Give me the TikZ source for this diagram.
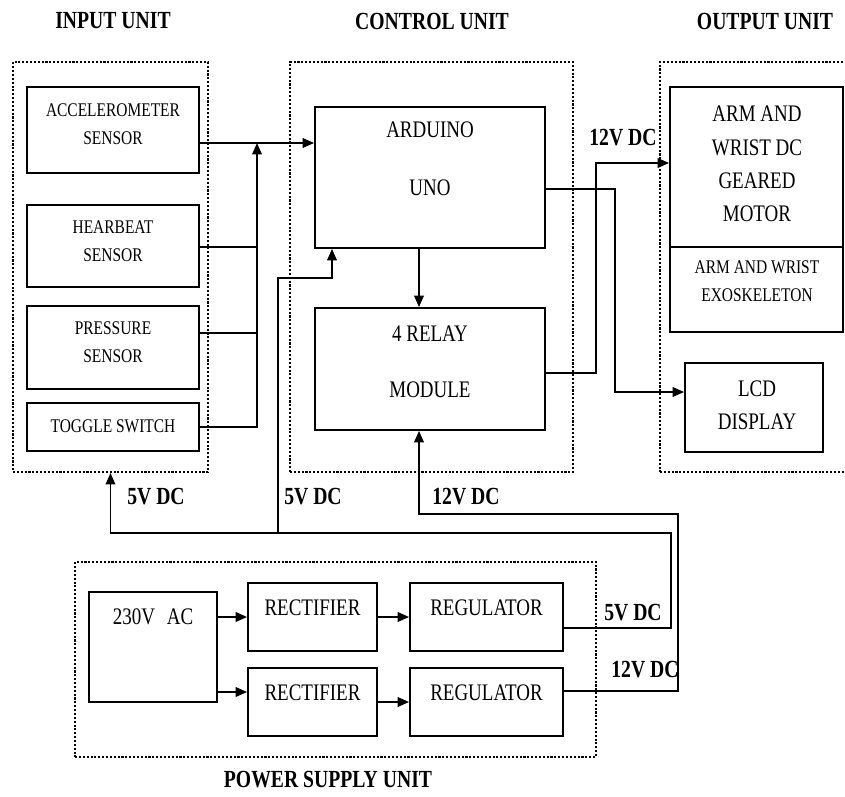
\documentclass[tikz,border=0pt]{standalone}
\usepackage{fontspec}
\setmainfont{Liberation Serif}[FakeStretch=0.8]
\usetikzlibrary{arrows.meta}

\begin{document}
\begin{tikzpicture}
  [x=0.02cm,y=-0.02cm,
   unit/.style={draw=black,densely dotted,line width=1.2pt,inner sep=0pt},
   blk/.style={draw=black,line width=1.1pt,inner sep=0pt},
   big/.style={font=\fontsize{13.5}{19}\selectfont,align=center,inner sep=0pt},
   small/.style={font=\fontsize{11}{16}\selectfont,align=center,inner sep=0pt},
   ttl/.style={font=\fontsize{14}{16}\selectfont\bfseries,inner sep=0pt},
   wire/.style={line width=0.9pt},
   arr/.style={wire,-{Triangle[length=6.5pt,width=5.5pt]}}]
\useasboundingbox (0,0) rectangle (845,796);

% Titulos de las unidades
  \node (tin)  at (113,21)  [ttl] {INPUT UNIT};
  \node (tctl) at (432,21)  [ttl] {CONTROL UNIT};
  \node (tout) at (765,21)  [ttl] {OUTPUT UNIT};
  \node (tpsu) at (328,780) [ttl] {POWER SUPPLY UNIT};

  % Recuadros punteados
  \node (inbox)  at (110.5,267) [unit,minimum width=3.9cm,minimum height=8.2cm] {};
  \node (ctlbox) at (431.5,267) [unit,minimum width=5.66cm,minimum height=8.2cm] {};
  \node (outbox) at (755,267)   [unit,minimum width=3.8cm,minimum height=8.2cm] {};
  \node (psubox) at (335.5,659.5) [unit,minimum width=10.42cm,minimum height=3.9cm] {};

  % Unidad de entrada
  \node (acc) at (113,130)   [blk,minimum width=3.44cm,minimum height=1.72cm] {};
  \node (hb)  at (113,246)   [blk,minimum width=3.44cm,minimum height=1.64cm] {};
  \node (pr)  at (113,347.5) [blk,minimum width=3.44cm,minimum height=1.66cm] {};
  \node (tg)  at (113,427)   [blk,minimum width=3.44cm,minimum height=0.96cm] {};
  \node (acct) at (113,124) [small] {ACCELEROMETER\\SENSOR};
  \node (hbt)  at (113,241) [small] {HEARBEAT\\SENSOR};
  \node (prt)  at (113,342) [small] {PRESSURE\\SENSOR};
  \node (tgt)  at (113,426) [small] {TOGGLE SWITCH};

  % Unidad de control
  \node (ard) at (430,177.5) [blk,minimum width=4.6cm,minimum height=2.82cm] {};
  \node (rel) at (430,369)   [blk,minimum width=4.6cm,minimum height=2.44cm] {};
  \node (ardt) at (430,159)   [big] {ARDUINO\\[14pt]UNO};
  \node (relt) at (430,361.5) [big] {4 RELAY\\[13pt]MODULE};

  % Unidad de salida
  \node (mot) at (756.5,167)   [blk,minimum width=3.46cm,minimum height=3.2cm] {};
  \node (exo) at (756.5,289.5) [blk,minimum width=3.46cm,minimum height=1.7cm] {};
  \node (lcd) at (754,407.5)   [blk,minimum width=2.76cm,minimum height=1.78cm] {};
  \node (mott) at (757,164)   [big] {ARM AND\\WRIST DC\\GEARED\\MOTOR};
  \node (exot) at (757,281.5) [small] {ARM AND WRIST\\EXOSKELETON};
  \node (lcdt) at (757,405.5) [big] {LCD\\DISPLAY};

  % Fuente de alimentacion
  \node (ac) at (153,647)   [blk,minimum width=2.56cm,minimum height=2.2cm] {};
  \node (r1) at (312.5,617) [blk,minimum width=2.58cm,minimum height=1.36cm] {};
  \node (r2) at (312.5,702) [blk,minimum width=2.58cm,minimum height=1.36cm] {};
  \node (g1) at (486.5,617) [blk,minimum width=3.06cm,minimum height=1.36cm] {};
  \node (g2) at (486.5,702) [blk,minimum width=3.06cm,minimum height=1.36cm] {};
  \node (act) at (153,617)   [big] {230V\enspace AC};
  \node (r1t) at (312.5,608) [big] {RECTIFIER};
  \node (r2t) at (312.5,693) [big] {RECTIFIER};
  \node (g1t) at (486.5,608) [big] {REGULATOR};
  \node (g2t) at (486.5,693) [big] {REGULATOR};

  % Etiquetas de tension
  \node (v12c) at (623,138) [ttl] {12V DC};
  \node (v5a)  at (156,497) [ttl] {5V DC};
  \node (v5b)  at (313,497) [ttl] {5V DC};
  \node (v12a) at (466,497) [ttl] {12V DC};
  \node (v5c)  at (633,613) [ttl] {5V DC};
  \node (v12b) at (645,670) [ttl] {12V DC};

  % Bus de sensores hacia el Arduino
  \coordinate (bus) at (257,143);
  \draw[wire,line width=0.6pt] (acc.east |- bus) -- (bus);
  \draw[arr] (bus) -- (ard.west |- bus);
  \draw[arr] (tg.east) -| (bus);
  \draw[wire] (hb.east |- 0,247) -- (bus |- 0,247);
  \draw[wire] (pr.east |- 0,333) -- (bus |- 0,333);

  % Control y salidas
  \draw[arr] (ard.south -| 419,0) -- (rel.north -| 419,0);
  \coordinate (lcdin) at (615,392);
  \draw[arr] (ard.east |- 0,189) -| (lcdin) -- (lcd.west |- lcdin);
  \coordinate (motin) at (596,163);
  \draw[arr] (rel.east |- 0,373) -| (motin) -- (mot.west |- motin);

  % Alimentacion 5V y 12V
  \coordinate (p5) at (671,533);
  \coordinate (j5) at (278,533);
  \coordinate (k5) at (332,278);
  \draw[arr] (g1.east |- 0,628) -| (p5) -| (inbox.south);
  \draw[arr] (j5) |- (k5) -- (ard.south -| k5);
  \coordinate (p12) at (678,514);
  \draw[arr] (g2.east |- 0,691) -| (p12) -| (rel.south -| 419,0);

  % Flechas internas de la fuente
  \draw[arr] (ac.east |- r1.west) -- (r1.west);
  \draw[arr] (ac.east |- 0,692) -- (r2.west |- 0,692);
  \draw[arr] (r1.east) -- (g1.west);
  \draw[arr] (r2.east) -- (g2.west);
\end{tikzpicture}
\end{document}
